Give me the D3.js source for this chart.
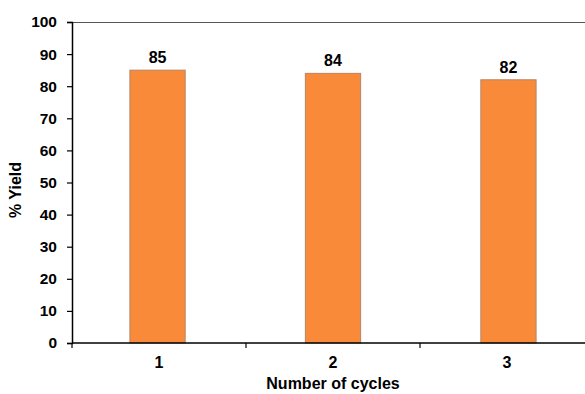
<!DOCTYPE html>
<html><head><meta charset="utf-8">
<script src="https://cdn.jsdelivr.net/npm/d3@7"></script>
<style>body{margin:0;background:#fff}svg{display:block}text{font-family:"Liberation Sans",Arial,sans-serif;font-weight:bold}</style>
</head><body>
<script>
const categories = ["1","2","3"];
const values = [85,84,82];
const yTicks = [0,10,20,30,40,50,60,70,80,90,100];

const W=585,H=394;
const x0=72,x1=594,y0=343,y1=22;
const svg=d3.select("body").append("svg").attr("width",W).attr("height",H);
const x=d3.scaleBand().domain(categories).range([x0,x1]).paddingInner(0.685).paddingOuter(0.33);
const y=d3.scaleLinear().domain([0,100]).range([y0,y1]);

svg.append("line").attr("x1",x0).attr("x2",W+10).attr("y1",y1+0.5).attr("y2",y1+0.5).attr("stroke","#555").attr("stroke-width",1);

svg.selectAll("rect.bar").data(values).join("rect").attr("class","bar")
 .attr("x",(d,i)=>x(categories[i])).attr("width",x.bandwidth())
 .attr("y",d=>y(d)).attr("height",d=>y0-y(d))
 .attr("fill","#F98A3A").attr("stroke","#b58565").attr("stroke-width",1);

svg.selectAll("text.val").data(values).join("text").attr("class","val")
 .attr("x",(d,i)=>x(categories[i])+x.bandwidth()/2).attr("y",d=>y(d)-7)
 .attr("text-anchor","middle").attr("font-size",16).text(d=>d);

const yAxis=d3.axisLeft(y).tickValues(yTicks).tickSize(5).tickPadding(10);
const gy=svg.append("g").attr("transform",`translate(${x0},0)`).call(yAxis);
gy.select(".domain").attr("stroke","#000").attr("stroke-width",1.5);
gy.selectAll(".tick line").attr("stroke","#000").attr("stroke-width",1.2);
gy.selectAll(".tick text").attr("font-size",15.5).attr("fill","#000").style("font-family","Liberation Sans, Arial, sans-serif").style("font-weight","bold");

const xEdge=d3.scaleLinear().domain([0,3]).range([x0,x1]);
const gx=svg.append("g").attr("transform",`translate(0,${y0})`);
gx.append("line").attr("x1",x0).attr("x2",x1).attr("stroke","#000").attr("stroke-width",1.5);
gx.selectAll("line.t").data([0,1,2,3]).join("line").attr("class","t")
 .attr("x1",d=>xEdge(d)).attr("x2",d=>xEdge(d)).attr("y1",0).attr("y2",5).attr("stroke","#000").attr("stroke-width",1.2);
gx.selectAll("text").data(categories).join("text")
 .attr("x",(d,i)=>xEdge(i+0.5)).attr("y",25).attr("text-anchor","middle").attr("font-size",16).text(d=>d);

svg.append("text").attr("x",333).attr("y",389).attr("text-anchor","middle").attr("font-size",16).text("Number of cycles");
svg.append("text").attr("transform","translate(21,190) rotate(-90)").attr("text-anchor","middle").attr("font-size",16).text("% Yield");
</script>
</body></html>
